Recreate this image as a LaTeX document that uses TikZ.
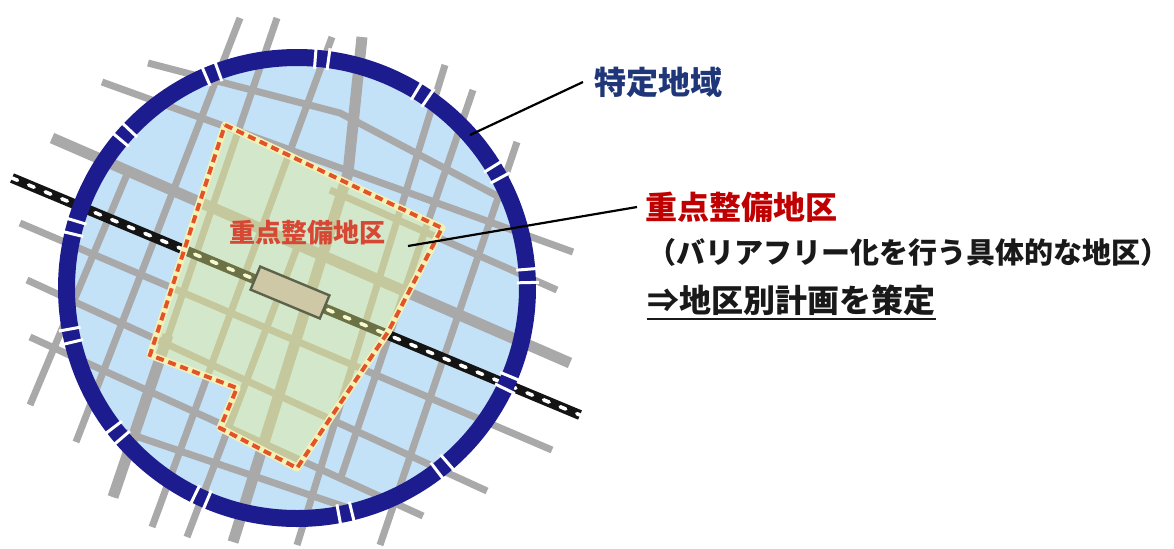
\documentclass[tikz,border=0pt]{standalone}
\usepackage{fontspec}
\newfontfamily\jp{Noto Sans CJK JP}
\usetikzlibrary{calc}
\definecolor{skyfill}{RGB}{195,225,247}
\definecolor{roadgray}{RGB}{169,169,169}
\definecolor{ringblue}{RGB}{28,28,142}
\definecolor{distfill}{RGB}{234,244,140}
\definecolor{distpale}{RGB}{243,241,181}
\definecolor{distred}{RGB}{226,82,43}
\definecolor{stfill}{RGB}{206,200,167}
\definecolor{stdraw}{RGB}{93,99,75}
\definecolor{titlenavy}{RGB}{31,55,120}
\definecolor{titlered}{RGB}{192,0,0}
\definecolor{maplabred}{RGB}{214,72,52}
\tikzset{
  road/.style={draw=roadgray, line width=3.5pt},
  thickroad/.style={draw=roadgray, line width=5.5pt},
  railbase/.style={draw=black!92, line width=5pt},
  raildash/.style={draw=white, line width=1.8pt, dash pattern=on 3pt off 6pt, line cap=round},
  ringstyle/.style={draw=ringblue, line width=8.5pt},
  gapcut/.style={draw=white, line width=1.5pt},
  distoverlay/.style={fill=distfill, fill opacity=0.42},
  distedgepale/.style={draw=distpale, line width=3.6pt, line join=round},
  distedgered/.style={draw=distred, line width=2pt, dash pattern=on 4pt off 2.4pt},
  stationbox/.style={draw=stdraw, fill=stfill, line width=1.2pt, minimum width=37.5pt, minimum height=12.5pt, inner sep=0pt},
  titletext/.style={font=\jp\bfseries\fontsize{16pt}{16pt}\selectfont, inner sep=0pt},
  subtext/.style={font=\jp\bfseries\fontsize{14.5pt}{14.5pt}\selectfont, inner sep=0pt, text=black!90},
  plantext/.style={font=\jp\bfseries\fontsize{16pt}{16pt}\selectfont, inner sep=0pt, text=black!90},
  maplabel/.style={font=\jp\bfseries\fontsize{13pt}{13pt}\selectfont, inner sep=0pt, text=maplabred},
  leader/.style={draw=black, line width=1.1pt},
  uline/.style={draw=black!90, line width=1.2pt}
}
\begin{document}
\begin{tikzpicture}[x=0.5pt,y=-0.5pt]
\useasboundingbox (0,0) rectangle (1174,548);
\fill[white] (0,0) rectangle (1174,548);
\coordinate (c) at (297,288);
% circle fill
\fill[skyfill] (c) circle[radius=112pt];
% roads, horizontal-ish
\draw[road] (148,63) -- (340,113) -- (505,200);
\draw[road] (102,82) -- (573,252);
\draw[thickroad] (52,138) -- (570,363);
\draw[road] (20,223) -- (552,450);
\draw[road] (27,280) -- (487,491);
\draw[road] (30,337) -- (423,516);
\draw[road] (330,190) -- (557,290);
\draw[road] (112,428) -- (360,512);
% roads, vertical-ish
\draw[road] (30,405) -- (128,172);
\draw[road] (240,18) -- (76,442);
\draw[road] (277,18) -- (113,497);
\draw[thickroad] (113,497) -- (168,335);
\draw[road] (332,37) -- (152,527);
\draw[thickroad] (362,37) -- (348,173) -- (233,542);
\draw[road] (187,537) -- (300,240);
\draw[road] (445,65) -- (297,545);
\draw[road] (473,90) -- (340,480);
\draw[road] (517,142) -- (380,545);
% railway
\draw[railbase] (12,178) -- (580,415);
\draw[raildash] (12,178) -- (580,415);
% priority district
\def\distpath{(225,125) -- (442,228) -- (388,332) -- (297,468) -- (220,428) -- (237,388) -- (150,355) -- cycle}
\fill[distoverlay] \distpath;
\draw[distedgepale] \distpath;
\draw[distedgered] \distpath;
% station
\node[stationbox, rotate=-22.6] (station) at (290,292.5) {};
% ring
\draw[ringstyle] (c) circle[radius=115.25pt];
\foreach \a in {111.6,138.3,164.8,83.8,57.1,30.1,3.0,-24.2,-50.9,-77.9,191.9,218.9,245.4}{
  \pgfmathsetmacro\ba{-\a+1.65}
  \pgfmathsetmacro\bb{-\a-1.65}
  \draw[gapcut] ([shift={(\ba:220)}]c) -- ([shift={(\ba:242)}]c);
  \draw[gapcut] ([shift={(\bb:220)}]c) -- ([shift={(\bb:242)}]c);
}
% map label
\node[maplabel] (mlab) at (307,233) {重点整備地区};
% right-hand labels
\node[titletext, text=titlenavy, anchor=west] (toku) at (594,82) {特定地域};
\node[titletext, text=titlered, anchor=west] (juten) at (645,207) {重点整備地区};
\node[subtext, anchor=west] (paren) at (647,252) {（バリアフリー化を行う具体的な地区）};
\node[plantext, anchor=west] (keikaku) at (647,300) {⇒地区別計画を策定};
\draw[uline] ([yshift=-1.5pt]keikaku.south west) -- ([yshift=-1.5pt]keikaku.south east);
% leaders
\coordinate (p1) at (470,135);
\coordinate (p2) at (408,246);
\draw[leader] (p1) -- ([xshift=-5.5pt]toku.west);
\draw[leader] (p2) -- ([xshift=-4pt]juten.west);
\end{tikzpicture}
\end{document}
